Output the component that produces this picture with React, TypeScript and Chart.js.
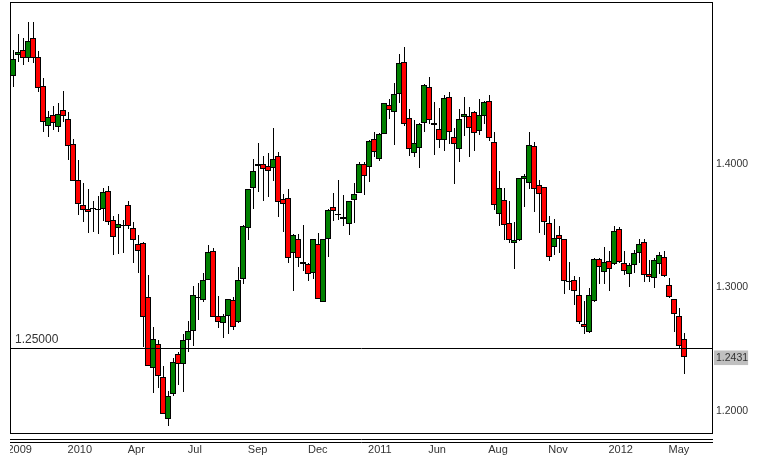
import React, { useEffect, useRef } from "react";
import Chart from "chart.js/auto";

const opens = [
  1.4707, 1.4877, 1.4912, 1.4853, 1.501, 1.4856, 1.4621, 1.4302, 1.4386, 1.4294,
  1.4426, 1.4353, 1.4151, 1.3859, 1.3657, 1.3624, 1.3624, 1.3622, 1.363, 1.377,
  1.3535, 1.347, 1.3497, 1.3657, 1.347, 1.3341, 1.335, 1.2918, 1.2337, 1.2532,
  1.2265, 1.1924, 1.2127, 1.2451, 1.237, 1.2564, 1.2637, 1.2913, 1.2888, 1.3056,
  1.3285, 1.2759, 1.2702, 1.2759, 1.2888, 1.271, 1.3058, 1.3476, 1.38, 1.3989,
  1.3989, 1.3973, 1.3957, 1.4054, 1.3705, 1.3714, 1.3273, 1.3381, 1.3195, 1.3179,
  1.3111, 1.3341, 1.2871, 1.3381, 1.3641, 1.3584, 1.356, 1.3503, 1.3697, 1.3754,
  1.3989, 1.3965, 1.4191, 1.4035, 1.4232, 1.4467, 1.441, 1.4556, 1.4815, 1.4362,
  1.4083, 1.4118, 1.4321, 1.4613, 1.4321, 1.4272, 1.4183, 1.4532, 1.4208, 1.411,
  1.4375, 1.4378, 1.441, 1.4256, 1.4378, 1.4499, 1.4167, 1.3584, 1.3697, 1.3511,
  1.3349, 1.3379, 1.3867, 1.384, 1.4135, 1.3819, 1.3803, 1.3511, 1.3317, 1.3414,
  1.3381, 1.3041, 1.3049, 1.2928, 1.2693, 1.2628, 1.2879, 1.3219, 1.3114, 1.3203,
  1.3179, 1.3462, 1.3188, 1.3099, 1.3172, 1.3269, 1.3358, 1.3099, 1.3067, 1.318,
  1.3237, 1.301, 1.2896, 1.2759, 1.2572,
];
const closes = [
  1.4839, 1.4896, 1.4853, 1.4985, 1.4853, 1.461, 1.4335, 1.437, 1.4326, 1.4394,
  1.4383, 1.4135, 1.3857, 1.367, 1.3622, 1.3606, 1.3635, 1.3627, 1.3762, 1.3525,
  1.3403, 1.3503, 1.3492, 1.3492, 1.3379, 1.329, 1.2751, 1.2354, 1.2572, 1.2273,
  1.1965, 1.2111, 1.2386, 1.237, 1.2564, 1.2637, 1.2929, 1.2904, 1.305, 1.3277,
  1.2751, 1.271, 1.2759, 1.2896, 1.267, 1.305, 1.3488, 1.3786, 1.3932, 1.3973,
  1.3948, 1.3938, 1.4029, 1.3687, 1.367, 1.3233, 1.3414, 1.3228, 1.3184, 1.3103,
  1.3381, 1.2901, 1.3381, 1.3616, 1.3608, 1.3576, 1.3543, 1.3689, 1.3746, 1.3989,
  1.3897, 1.4175, 1.4086, 1.4232, 1.4483, 1.4426, 1.4556, 1.4807, 1.4313, 1.411,
  1.4159, 1.4313, 1.4629, 1.4345, 1.4305, 1.4183, 1.4524, 1.4254, 1.4151, 1.4353,
  1.4394, 1.4281, 1.424, 1.4386, 1.4491, 1.42, 1.3657, 1.3795, 1.3495, 1.3379,
  1.3373, 1.3875, 1.3892, 1.4143, 1.3786, 1.3746, 1.3519, 1.3236, 1.339, 1.3381,
  1.3041, 1.3036, 1.296, 1.2715, 1.2674, 1.2928, 1.3219, 1.3155, 1.3195, 1.3138,
  1.3446, 1.3195, 1.3123, 1.3172, 1.3269, 1.3342, 1.3091, 1.3075, 1.3212, 1.3253,
  1.3083, 1.2913, 1.2775, 1.2516, 1.2431,
];
const highs = [
  1.4915, 1.5045, 1.5012, 1.5142, 1.5142, 1.4907, 1.4686, 1.4421, 1.4461, 1.4486,
  1.4583, 1.4413, 1.4194, 1.4024, 1.3838, 1.3789, 1.3692, 1.3732, 1.3797, 1.3813,
  1.357, 1.3587, 1.3538, 1.3692, 1.3522, 1.3417, 1.3358, 1.3093, 1.267, 1.2567,
  1.2356, 1.2151, 1.2418, 1.2467, 1.2613, 1.2718, 1.3004, 1.3029, 1.3107, 1.3336,
  1.3309, 1.2921, 1.2775, 1.2896, 1.2913, 1.3158, 1.3498, 1.379, 1.4029, 1.4162,
  1.4056, 1.4081, 1.4283, 1.4089, 1.3749, 1.3789, 1.3425, 1.3422, 1.3498, 1.3187,
  1.3381, 1.343, 1.3381, 1.3624, 1.3757, 1.3862, 1.3741, 1.3692, 1.3838, 1.4008,
  1.4008, 1.4186, 1.4251, 1.4243, 1.4483, 1.4515, 1.4648, 1.4883, 1.4939, 1.4434,
  1.4348, 1.4321, 1.4637, 1.4694, 1.4494, 1.4443, 1.4548, 1.4572, 1.4281, 1.4434,
  1.4534, 1.4451, 1.4418, 1.4515, 1.4499, 1.4548, 1.4248, 1.3935, 1.3795, 1.3689,
  1.3522, 1.3875, 1.3908, 1.4248, 1.4167, 1.3862, 1.3803, 1.3568, 1.3546, 1.3487,
  1.3381, 1.3195, 1.3082, 1.3074, 1.2879, 1.2985, 1.3228, 1.3228, 1.3319, 1.3287,
  1.3487, 1.3479, 1.3288, 1.3188, 1.3293, 1.3382, 1.3382, 1.3212, 1.3229, 1.3277,
  1.3285, 1.3067, 1.2896, 1.2824, 1.2621,
];
const lows = [
  1.4615, 1.4815, 1.4794, 1.4818, 1.481, 1.4575, 1.4251, 1.421, 1.4267, 1.4251,
  1.4332, 1.4024, 1.3857, 1.3579, 1.3522, 1.3433, 1.3441, 1.3425, 1.353, 1.3498,
  1.3255, 1.3263, 1.3274, 1.3465, 1.3193, 1.3112, 1.2513, 1.2354, 1.214, 1.2175,
  1.1965, 1.1873, 1.2111, 1.2202, 1.2146, 1.2472, 1.2518, 1.2729, 1.2877, 1.305,
  1.2751, 1.2661, 1.2586, 1.2616, 1.2645, 1.2702, 1.3023, 1.3376, 1.3627, 1.3765,
  1.3692, 1.3724, 1.3857, 1.3562, 1.3441, 1.319, 1.2963, 1.3157, 1.3125, 1.3044,
  1.306, 1.2901, 1.2871, 1.3238, 1.353, 1.3538, 1.3489, 1.3417, 1.3514, 1.3754,
  1.3738, 1.3846, 1.4046, 1.4016, 1.4232, 1.4356, 1.4146, 1.4486, 1.4302, 1.4056,
  1.4046, 1.3959, 1.4251, 1.4313, 1.4065, 1.4121, 1.4097, 1.4154, 1.383, 1.4008,
  1.4218, 1.4048, 1.4097, 1.4227, 1.4316, 1.4178, 1.3619, 1.3489, 1.3376, 1.3354,
  1.3141, 1.3368, 1.3643, 1.3789, 1.3603, 1.3433, 1.3417, 1.3206, 1.3255, 1.3271,
  1.2939, 1.2971, 1.285, 1.2696, 1.2615, 1.262, 1.2871, 1.302, 1.302, 1.2963,
  1.3171, 1.3187, 1.3091, 1.2999, 1.3107, 1.3188, 1.3034, 1.3034, 1.2991, 1.3099,
  1.3075, 1.2905, 1.2635, 1.2491, 1.2289,
];

const xTickIndexes = [0, 12, 24, 36, 48, 60, 72, 84, 96, 108, 120, 132];
const xTickLabels = ["2009", "2010", "Apr", "Jul", "Sep", "Dec", "2011", "Jun", "Aug", "Nov", "2012", "May"];
const yTickValues = [1.2, 1.2431, 1.3, 1.4];
const lastPrice = 1.2431;
const levelPrice = 1.25;
const levelLabel = "1.25000";

const FONT = "'Liberation Sans', Arial, sans-serif";

// the original snaps candles to whole pixels, so do the same before drawing
const snapCandles = {
  id: "snapCandles",
  beforeDatasetsDraw(chart: any) {
    chart.data.datasets.forEach((_: any, d: number) => {
      chart.getDatasetMeta(d).data.forEach((bar: any) => {
        bar.x = d === 0 ? Math.floor(bar.x) : Math.floor(bar.x) + 0.5;
        bar.y = Math.round(bar.y);
        bar.base = Math.round(bar.base);
      });
    });
  },
};

const chartFrame = {
  id: "chartFrame",
  afterDraw(chart: any) {
    const { ctx, chartArea } = chart;
    const { left, top, right, bottom } = chartArea;
    const levelY = Math.round(chart.scales.y.getPixelForValue(levelPrice)) + 0.5;
    ctx.save();
    // "2009" is cut off by the left edge of the pane in the original
    ctx.fillStyle = "#fff";
    ctx.fillRect(0, bottom + 1, left, chart.height - bottom - 1);
    ctx.strokeStyle = "#000";
    ctx.lineWidth = 1;
    ctx.strokeRect(left + 0.5, top + 0.5, right - left - 1, bottom - top);
    ctx.beginPath();
    ctx.moveTo(left, levelY);
    ctx.lineTo(right, levelY);
    ctx.moveTo(left, bottom + 6.5);
    ctx.lineTo(right, bottom + 6.5);
    ctx.moveTo(left, bottom + 9.5);
    ctx.lineTo(right, bottom + 9.5);
    ctx.stroke();
    ctx.fillStyle = "#333";
    ctx.font = `12px ${FONT}`;
    ctx.textAlign = "left";
    ctx.textBaseline = "middle";
    ctx.fillText(levelLabel, left + 5, levelY - 9);
    ctx.restore();
  },
};

const App = () => {
  const chartRef = useRef<HTMLCanvasElement | null>(null);

  useEffect(() => {
    if (!chartRef.current) return;
    const ctx = chartRef.current.getContext("2d");
    if (!ctx) return;

    const chart = new Chart(ctx, {
      type: "bar",
      data: {
        datasets: [
          {
            label: "Body",
            data: opens.map((o, i) => ({ x: i, y: [o, closes[i]] })) as any,
            backgroundColor: opens.map((o, i) => (closes[i] >= o ? "#008000" : "#ff0000")),
            borderColor: "#000",
            borderWidth: 1,
            borderSkipped: false,
            barThickness: 6,
            grouped: false,
            inflateAmount: 0,
            order: 1,
          },
          {
            label: "Wick",
            data: lows.map((l, i) => ({ x: i, y: [l, highs[i]] })) as any,
            backgroundColor: "#000",
            borderWidth: 0,
            barThickness: 1,
            grouped: false,
            inflateAmount: 0,
            order: 2,
          },
        ],
      },
      plugins: [snapCandles, chartFrame],
      options: {
        responsive: false,
        animation: false,
        layout: { padding: { left: 10, top: 2, right: 0, bottom: 0 } },
        plugins: { legend: { display: false }, tooltip: { enabled: false } },
        scales: {
          x: {
            type: "linear",
            offset: false,
            min: -0.7,
            max: 139.69,
            grid: { display: false, drawTicks: false },
            border: { display: false },
            afterBuildTicks: (scale: any) => {
              scale.ticks = xTickIndexes.map((value) => ({ value }));
            },
            afterFit: (scale: any) => {
              scale.height = 25;
              scale.paddingLeft = 0;
              scale.paddingRight = 0;
            },
            ticks: {
              autoSkip: false,
              maxRotation: 0,
              align: "start",
              labelOffset: -6,
              padding: 10,
              color: "#333",
              font: { family: FONT, size: 11 },
              callback: (_: any, i: number) => xTickLabels[i],
            },
          },
          y: {
            position: "right",
            min: 1.18138,
            max: 1.53036,
            grid: { display: false, drawTicks: false },
            border: { display: false },
            afterBuildTicks: (scale: any) => {
              scale.ticks = yTickValues.map((value) => ({ value }));
            },
            afterFit: (scale: any) => {
              scale.width = 45;
              scale.paddingTop = 0;
              scale.paddingBottom = 0;
            },
            ticks: {
              autoSkip: false,
              padding: 3,
              labelOffset: 1,
              color: "#333",
              font: { family: FONT, size: 10.5 },
              callback: (value: any) => Number(value).toFixed(4),
              showLabelBackdrop: (c: any) => c.tick && c.tick.value === lastPrice,
              backdropColor: "#c0c0c0",
              backdropPadding: { left: 2, right: 0, top: 1, bottom: 1 },
            },
          },
        },
      },
    } as any);

    return () => {
      chart.destroy();
    };
  }, []);

  return (
    <div style={{ position: "fixed", left: 0, top: 0 }}>
      <canvas ref={chartRef} width={758} height={458} style={{ display: "block" }} />
    </div>
  );
};

export default App;
